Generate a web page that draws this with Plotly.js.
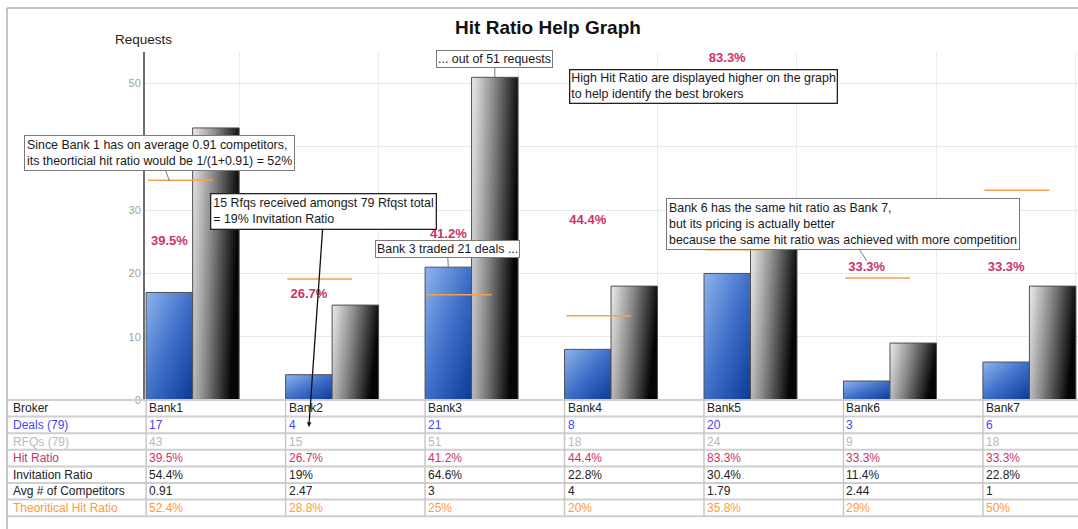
<!DOCTYPE html>
<html>
<head>
<meta charset="utf-8">
<script src="https://cdn.plot.ly/plotly-3.0.1.min.js"></script>
<style>
  html, body { margin: 0; padding: 0; background: #fff; }
  #chart { width: 1078px; height: 529px; }
</style>
</head>
<body>
<div id="chart"></div>
<script>
// ---- data ----
const brokers = ['Bank1', 'Bank2', 'Bank3', 'Bank4', 'Bank5', 'Bank6', 'Bank7'];
const deals = [17, 4, 21, 8, 20, 3, 6];
const rfqs = [43, 15, 51, 18, 24, 9, 18];
const hitRatio = [39.5, 26.7, 41.2, 44.4, 83.3, 33.3, 33.3];
const invitationRatio = [54.4, 19, 64.6, 22.8, 30.4, 11.4, 22.8];
const avgCompetitors = [0.91, 2.47, 3, 4, 1.79, 2.44, 1];
const theoreticalHitRatio = [52.4, 28.8, 25, 20, 35.8, 29, 50];
const rowLabels = ['Broker', 'Deals (79)', 'RFQs (79)', 'Hit Ratio', 'Invitation Ratio', 'Avg # of Competitors', 'Theoritical Hit Ratio'];
const yTickValues = [0, 10, 20, 30, 40, 50];
const yTickLabels = ['0', '10', '20', '30', '', '50'];   // the 40 label is hidden behind a callout in the reference
const yMax = 55;

// ---- layout helpers ----
const FONT = 'Liberation Sans, Arial, sans-serif';
const W = 1078, H = 529, ML = 145, MR = 0, MT = 52, MB = 129;
const plotW = W - ML - MR, plotH = H - MT - MB;
const px = p => (p - ML) / plotW;          // pixel x -> paper x
const py = p => (H - MB - p) / plotH;      // pixel y -> paper y
const ratioScale = yMax / Math.max(...hitRatio);
const pct = v => v + '%';

const C_BLUE_TXT = '#4646f2', C_GRAY_TXT = '#b9b9b9', C_HIT = '#cc3366', C_TXT = '#222222', C_ORANGE = '#ff9a3c';
const tableRows = [
  {vals: brokers, color: C_TXT},
  {vals: deals, color: C_BLUE_TXT},
  {vals: rfqs, color: C_GRAY_TXT},
  {vals: hitRatio.map(pct), color: C_HIT},
  {vals: invitationRatio.map(pct), color: C_TXT},
  {vals: avgCompetitors, color: C_TXT},
  {vals: theoreticalHitRatio.map(pct), color: C_ORANGE}
];
const tableTop = 400, rowH = 16.6, tableLeft = 7;
const colStart = -1 / 6;   // column start relative to category centre (blue bar left edge)

// ---- traces ----
const traces = [
  {
    type: 'bar', name: 'Deals', x: brokers, y: deals,
    width: 1 / 3, offset: -1 / 6,
    marker: {color: '#3f6fc8', line: {color: '#4f4f4f', width: 1}},
    hoverinfo: 'x+y'
  },
  {
    type: 'bar', name: 'RFQs', x: brokers, y: rfqs,
    width: 1 / 3, offset: 1 / 6,
    marker: {color: '#777777', line: {color: '#4f4f4f', width: 1}},
    hoverinfo: 'x+y'
  },
  {
    type: 'bar', name: 'Theoritical Hit Ratio', x: brokers,
    base: theoreticalHitRatio.map(v => v * ratioScale),
    y: brokers.map(() => 0.24),
    width: 0.465, offset: -0.155,
    marker: {color: '#f5a04a', line: {width: 0}},
    hoverinfo: 'x'
  },
  {
    type: 'scatter', mode: 'text', name: 'Hit Ratio', x: brokers,
    y: hitRatio.map(v => v * ratioScale),
    text: hitRatio.map(pct), textposition: 'bottom center',
    textfont: {family: FONT, size: 13, color: C_HIT, weight: 'bold'},
    cliponaxis: false, hoverinfo: 'x+text'
  }
];

// ---- annotations ----
const annotations = [];
annotations.push({
  xref: 'paper', yref: 'paper', x: px(143), y: py(40), text: 'Requests',
  showarrow: false, font: {family: FONT, size: 13.5, color: '#222'}, xanchor: 'center', yanchor: 'middle'
});
// table text
tableRows.forEach((row, i) => {
  const yc = py(tableTop + (i + 0.5) * rowH);
  annotations.push({
    xref: 'paper', yref: 'paper', x: px(tableLeft + 4), y: yc, text: rowLabels[i],
    showarrow: false, xanchor: 'left', yanchor: 'middle',
    font: {family: FONT, size: 12, color: row.color}
  });
  row.vals.forEach((v, j) => {
    annotations.push({
      xref: 'x', yref: 'paper', x: j + colStart, y: yc, text: String(v),
      showarrow: false, xanchor: 'left', yanchor: 'middle', xshift: 1,
      font: {family: FONT, size: 12, color: row.color}
    });
  });
});
// callouts
const boxFont = {family: FONT, size: 12.4, color: '#1a1a1a'};
annotations.push({
  xref: 'x', yref: 'y', x: 'Bank1', y: theoreticalHitRatio[0] * ratioScale,
  text: 'Since Bank 1 has on average 0.91 competitors,<br>its theorticial hit ratio would be 1/(1+0.91) = 52%',
  align: 'left', font: boxFont, bgcolor: '#ffffff', bordercolor: '#7a7a7a', borderwidth: 1, borderpad: 2,
  showarrow: true, arrowhead: 0, arrowcolor: '#7a7a7a', arrowwidth: 1, ax: -10, ay: -28
});
annotations.push({
  xref: 'x', yref: 'paper', x: 'Bank2', y: py(427),
  text: '15 Rfqs received amongst 79 Rfqst total<br>= 19% Invitation Ratio',
  align: 'left', font: boxFont, bgcolor: '#ffffff', bordercolor: '#222222', borderwidth: 1.3, borderpad: 2,
  showarrow: true, arrowhead: 2, arrowsize: 0.7, arrowcolor: '#111', arrowwidth: 1.3, ax: 15, ay: -216
});
annotations.push({
  xref: 'x', yref: 'y', x: brokers.indexOf('Bank3') + 1 / 3, y: rfqs[2],
  text: '... out of 51 requests',
  align: 'left', font: boxFont, bgcolor: '#ffffff', bordercolor: '#7a7a7a', borderwidth: 1, borderpad: 1,
  showarrow: true, arrowhead: 0, arrowcolor: '#7a7a7a', arrowwidth: 1, ax: 0, ay: -18
});
annotations.push({
  xref: 'paper', yref: 'paper', x: px(569), y: py(69), xanchor: 'left', yanchor: 'top',
  text: 'High Hit Ratio are displayed higher on the graph<br>to help identify the best brokers',
  align: 'left', font: boxFont, bgcolor: '#ffffff', bordercolor: '#222222', borderwidth: 1.3, borderpad: 1,
  showarrow: false
});
annotations.push({
  xref: 'x', yref: 'y', x: 'Bank3', y: deals[2],
  text: 'Bank 3 traded 21 deals ...',
  align: 'left', font: boxFont, bgcolor: '#ffffff', bordercolor: '#7a7a7a', borderwidth: 1, borderpad: 1,
  showarrow: true, arrowhead: 0, arrowcolor: '#7a7a7a', arrowwidth: 1, ax: -1, ay: -18
});
annotations.push({
  xref: 'x', yref: 'y', x: 'Bank6', y: hitRatio[5] * ratioScale,
  text: 'Bank 6 has the same hit ratio as Bank 7,<br>but its pricing is actually better<br>because the same hit ratio was achieved with more competition',
  align: 'left', font: boxFont, bgcolor: '#ffffff', bordercolor: '#7a7a7a', borderwidth: 1, borderpad: 2,
  showarrow: true, arrowhead: 0, arrowcolor: '#7a7a7a', arrowwidth: 1, ax: -24, ay: -37
});

// ---- shapes (frame + table grid) ----
const shapes = [];
shapes.push({type: 'rect', xref: 'paper', yref: 'paper', x0: px(7), x1: px(1100), y0: py(545), y1: py(8),
  line: {color: '#8a8a8a', width: 1}, fillcolor: 'rgba(0,0,0,0)', layer: 'below'});
for (let k = 0; k <= tableRows.length; k++) {
  shapes.push({type: 'line', xref: 'paper', yref: 'paper', x0: px(tableLeft), x1: px(W), y0: py(tableTop + k * rowH), y1: py(tableTop + k * rowH),
    line: {color: '#cfcfcf', width: 2}, layer: 'above'});
}
brokers.forEach((b, j) => {
  shapes.push({type: 'line', xref: 'x', yref: 'paper', x0: j + colStart, x1: j + colStart, y0: py(tableTop), y1: py(tableTop + tableRows.length * rowH),
    line: {color: '#c8c8c8', width: 1.5}, layer: 'above'});
});

const layout = {
  width: W, height: H,
  margin: {l: ML, r: MR, t: MT, b: MB, pad: 0},
  paper_bgcolor: '#ffffff', plot_bgcolor: '#ffffff',
  font: {family: FONT, color: '#222'},
  showlegend: false,
  barmode: 'overlay',
  title: {
    text: '<b>Hit Ratio Help Graph</b>', font: {family: FONT, size: 19, color: '#111'},
    xref: 'container', yref: 'container', x: 548 / W, xanchor: 'center', y: 1 - 27 / H, yanchor: 'middle'
  },
  xaxis: {
    type: 'category', categoryorder: 'array', categoryarray: brokers,
    range: [-0.175, 6.515], fixedrange: true,
    tickson: 'boundaries', showgrid: true, gridcolor: '#ebebeb', gridwidth: 1,
    showticklabels: false, ticks: '', showline: false, zeroline: false
  },
  yaxis: {
    range: [0, yMax], fixedrange: true,
    tickmode: 'array', tickvals: yTickValues, ticktext: yTickLabels,
    tickfont: {family: FONT, size: 11, color: '#a0a0a0'},
    ticks: '', showgrid: true, gridcolor: '#e9e9e9', gridwidth: 1,
    showline: true, linecolor: '#6f6f6f', linewidth: 2, zeroline: false
  },
  annotations: annotations,
  shapes: shapes
};

Plotly.newPlot('chart', traces, layout, {displayModeBar: false, staticPlot: true}).then(() => {
  const NS = 'http://www.w3.org/2000/svg';
  const svg = document.querySelector('#chart .main-svg');
  let defs = svg.querySelector('defs');
  if (!defs) { defs = document.createElementNS(NS, 'defs'); svg.insertBefore(defs, svg.firstChild); }
  function grad(id, x2, y2, stops) {
    const g = document.createElementNS(NS, 'linearGradient');
    g.setAttribute('id', id);
    g.setAttribute('x1', '0'); g.setAttribute('y1', '0');
    g.setAttribute('x2', x2); g.setAttribute('y2', y2);
    stops.forEach(([o, c]) => {
      const s = document.createElementNS(NS, 'stop');
      s.setAttribute('offset', o); s.setAttribute('stop-color', c);
      g.appendChild(s);
    });
    defs.appendChild(g);
  }
  grad('gBlue', '1', '1', [['0', '#8fb4ee'], ['0.5', '#3f6fc8'], ['1', '#0a3a98']]);
  grad('gGray', '1', '0.25', [['0', '#ececec'], ['0.45', '#8c8c8c'], ['1', '#050505']]);
  const tr = document.querySelectorAll('#chart .barlayer .trace');
  if (tr[0]) tr[0].querySelectorAll('path').forEach(p => { p.style.fill = 'url(#gBlue)'; });
  if (tr[1]) tr[1].querySelectorAll('path').forEach(p => { p.style.fill = 'url(#gGray)'; });
});
</script>
</body>
</html>
